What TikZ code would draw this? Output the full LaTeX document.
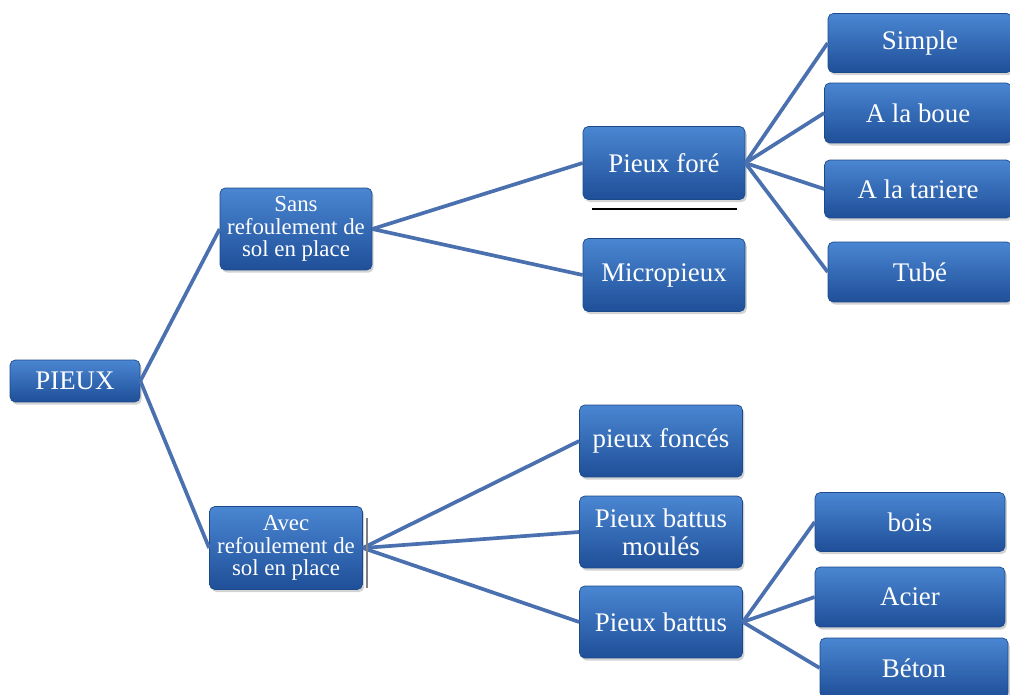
\documentclass[tikz,border=0pt]{standalone}
\usepackage{fontspec}
\setmainfont{Liberation Serif}
\usetikzlibrary{shadows}
\definecolor{boxtop}{HTML}{4A86D2}
\definecolor{boxmid}{HTML}{2C64B4}
\definecolor{boxbot}{HTML}{1F4F98}
\definecolor{boxedge}{HTML}{1B4A8A}
\definecolor{linkblue}{HTML}{4A70B0}
\tikzset{
  pieu/.style={rectangle, rounded corners=3pt, draw=boxedge, thin,
    top color=boxtop, middle color=boxmid, bottom color=boxbot,
    text=white, font=\rmfamily\fontsize{15.3}{16}\selectfont, align=center, inner sep=2pt,
    drop shadow={opacity=0.35, shadow xshift=1pt, shadow yshift=-1.5pt}},
  pieusmall/.style={pieu, font=\rmfamily\fontsize{13}{13}\selectfont},
  lien/.style={draw=linkblue, line width=2.1pt},
}
\begin{document}
\begin{tikzpicture}[x=0.02cm, y=-0.02cm]
  \useasboundingbox (0,0) rectangle (1010,695);
  % racine
  \node[pieu, minimum width=2.6cm, minimum height=0.84cm] (pieux) at (75,381) {PIEUX};
  % deux familles
  \node[pieusmall, minimum width=3.04cm, minimum height=1.64cm] (sans) at (296,229) {Sans\\refoulement de\\sol en place};
  \node[pieusmall, minimum width=3.06cm, minimum height=1.66cm] (avec) at (286,548) {Avec\\refoulement de\\sol en place};
  % sans refoulement
  \node[pieu, minimum width=3.24cm, minimum height=1.46cm] (fore) at (664,163) {Pieux foré};
  \node[pieu, minimum width=3.24cm, minimum height=1.46cm] (micro) at (664,275) {Micropieux};
  % avec refoulement
  \node[pieu, minimum width=3.26cm, minimum height=1.44cm] (fonces) at (661,441) {pieux foncés};
  \node[pieu, minimum width=3.26cm, minimum height=1.44cm] (moules) at (661,532) {Pieux battus\\moulés};
  \node[pieu, minimum width=3.26cm, minimum height=1.44cm] (battus) at (661,622) {Pieux battus};
  % pieux forés
  \node[pieu, minimum width=3.68cm, minimum height=1.18cm] (simple) at (920,43) {Simple};
  \node[pieu, minimum width=3.74cm, minimum height=1.2cm] (boue) at (918,113) {A la boue};
  \node[pieu, minimum width=3.74cm, minimum height=1.16cm] (tariere) at (918,189) {A la tariere};
  \node[pieu, minimum width=3.68cm, minimum height=1.2cm] (tube) at (920,272) {Tubé};
  % pieux battus
  \node[pieu, minimum width=3.8cm, minimum height=1.18cm] (bois) at (910,522) {bois};
  \node[pieu, minimum width=3.8cm, minimum height=1.2cm] (acier) at (910,597) {Acier};
  \node[pieu, minimum width=3.76cm, minimum height=1.2cm] (beton) at (914,668) {Béton};
  % liens
  \draw[lien] (pieux.east) -- (sans.west);
  \draw[lien] (pieux.east) -- (avec.west);
  \foreach \f in {fore,micro}
    \draw[lien] (sans.east) -- (\f.west);
  \foreach \f in {fonces,moules,battus}
    \draw[lien] (avec.east) -- (\f.west);
  \foreach \f in {simple,boue,tariere,tube}
    \draw[lien] (fore.east) -- (\f.west);
  \foreach \f in {bois,acier,beton}
    \draw[lien] (battus.east) -- (\f.west);
  % traits parasites
  \draw[black, line width=0.8pt] (592,209) -- (737,209);
  \draw[gray, line width=1pt] (367,518) -- (367,588);
\end{tikzpicture}
\end{document}
